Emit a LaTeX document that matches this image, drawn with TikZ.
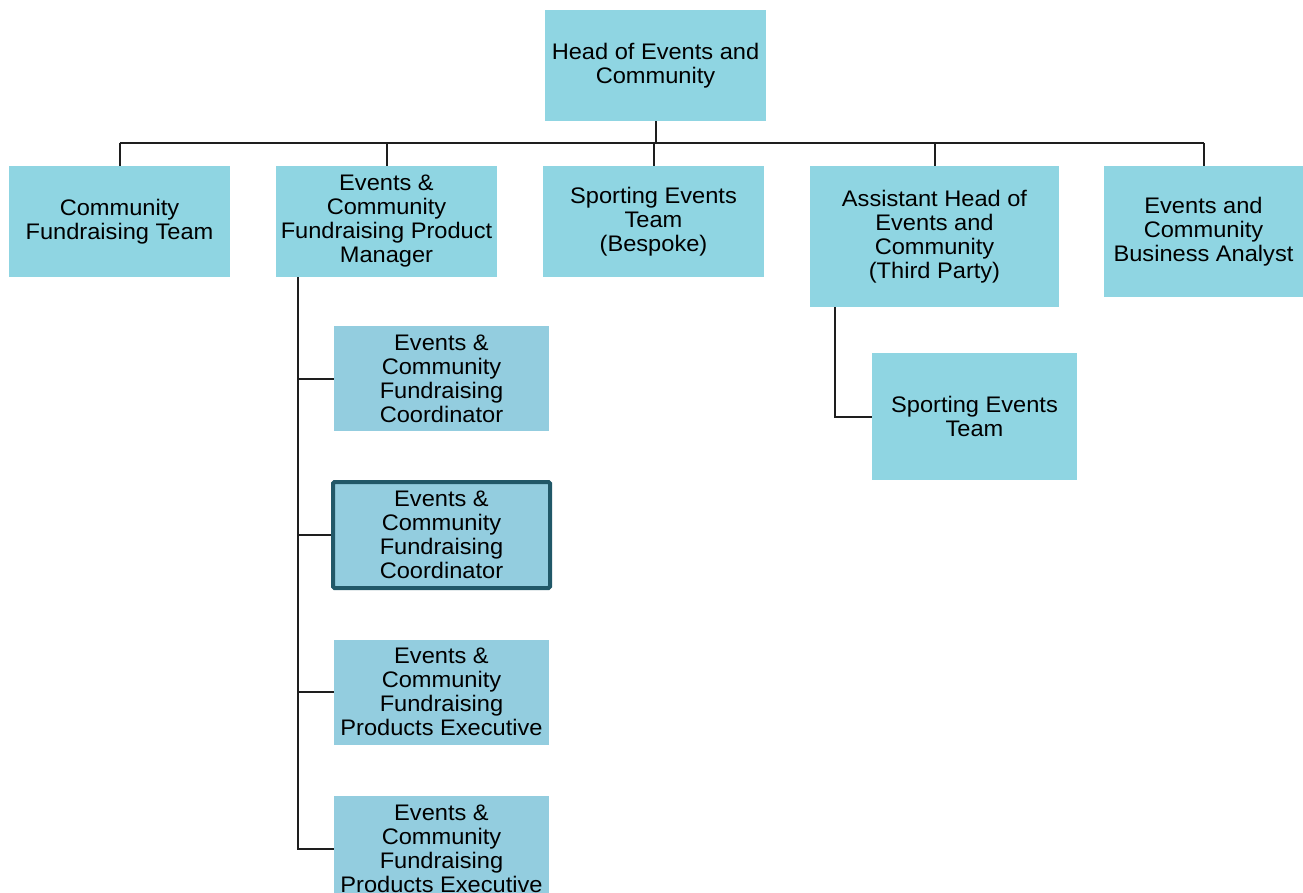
\documentclass[tikz,border=0pt]{standalone}
\usepackage{fontspec}
\setmainfont[FakeStretch=1.05]{Liberation Sans}
\definecolor{topfill}{RGB}{143,213,226}
\definecolor{subfill}{RGB}{147,205,223}
\definecolor{hiborder}{RGB}{33,88,104}
\definecolor{linecol}{RGB}{30,30,30}
\tikzset{
  box/.style={fill=topfill, draw=none, inner sep=0pt, align=center,
    font=\fontsize{22.5}{24}\selectfont},
  subbox/.style={box, fill=subfill},
  hibox/.style={subbox, draw=hiborder, line width=4pt, rounded corners=1.5pt},
  conn/.style={draw=linecol, line width=2pt}
}
\begin{document}
\begin{tikzpicture}[x=1pt,y=-1pt]
\useasboundingbox (0,0) rectangle (1303,892);
\clip (0,0) rectangle (1303,892);
% top
\node[box, minimum width=221pt, minimum height=111pt] (head) at (655.5,65.5) {Head of Events and\\Community};
% level 1
\node[box, minimum width=221pt, minimum height=111pt] (cft) at (119.5,221.5) {Community\\Fundraising Team};
\node[box, minimum width=221pt, minimum height=111pt] (pm) at (386.5,221.5) {Events \&\\Community\\Fundraising Product\\Manager};
\node[box, minimum width=221pt, minimum height=111pt] (seb) at (653.5,221.5) {Sporting Events\\Team\\(Bespoke)};
\node[box, minimum width=249pt, minimum height=141pt] (ah) at (934.5,236.5) {Assistant Head of\\Events and\\Community\\(Third Party)};
\node[box, minimum width=199pt, minimum height=131pt] (ba) at (1203.5,231.5) {Events and\\Community\\Business Analyst};
% PM children
\node[subbox, minimum width=215pt, minimum height=105pt] (c1) at (441.5,378.5) {Events \&\\Community\\Fundraising\\Coordinator};
\node[hibox, minimum width=217pt, minimum height=106pt] (c2) at (441.5,535) {Events \&\\Community\\Fundraising\\Coordinator};
\node[subbox, minimum width=215pt, minimum height=105pt] (c3) at (441.5,692) {Events \&\\Community\\Fundraising\\Products Executive};
\node[subbox, minimum width=215pt, minimum height=105pt] (c4) at (441.5,848.5) {Events \&\\Community\\Fundraising\\Products Executive};
% AH child
\node[box, minimum width=205pt, minimum height=127pt] (set) at (974.5,416.5) {Sporting Events\\Team};
% connectors
\coordinate (bus) at (656,143);
\coordinate (pmv) at (298,277);
\coordinate (ahv) at (835,307);
\draw[conn] (head.south) -- (head.south |- bus);
\draw[conn] (cft.north |- bus) -- (ba.north |- bus);
\draw[conn] (cft.north) -- (cft.north |- bus);
\draw[conn] (pm.north) -- (pm.north |- bus);
\draw[conn] (seb.north) -- (seb.north |- bus);
\draw[conn] (ah.north) -- (ah.north |- bus);
\draw[conn] (ba.north) -- (ba.north |- bus);
\draw[conn] (pmv) |- (c4.west);
\draw[conn] (pmv |- c1.west) -- (c1.west);
\draw[conn] (pmv |- c2.west) -- (c2.west);
\draw[conn] (pmv |- c3.west) -- (c3.west);
\draw[conn] (ahv) |- (set.west);
\end{tikzpicture}
\end{document}
